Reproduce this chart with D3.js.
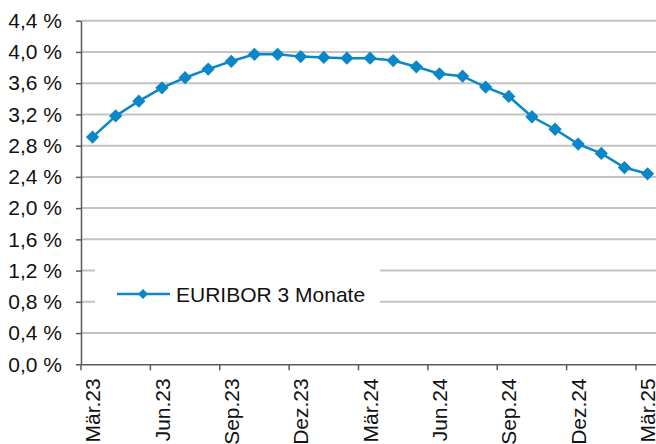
<!DOCTYPE html>
<html>
<head>
<meta charset="utf-8">
<script src="https://cdn.jsdelivr.net/npm/d3@7"></script>
<style>
  html, body { margin: 0; padding: 0; background: #fff; overflow: hidden; }
  svg { display: block; font-family: "Liberation Sans", Arial, sans-serif; }
</style>
</head>
<body>
<div id="chart"></div>
<script>
// Monthly 3-month EURIBOR, Mar 2023 - Mar 2025
const months = ["Mär.23", "Apr.23", "Mai.23", "Jun.23", "Jul.23", "Aug.23", "Sep.23", "Okt.23", "Nov.23",
    "Dez.23", "Jan.24", "Feb.24", "Mär.24", "Apr.24", "Mai.24", "Jun.24", "Jul.24", "Aug.24", "Sep.24",
    "Okt.24", "Nov.24", "Dez.24", "Jan.25", "Feb.25", "Mär.25"];
const euribor = [2.91, 3.18, 3.37, 3.54, 3.67, 3.78, 3.88, 3.97, 3.97, 3.94, 3.93, 3.92, 3.92,
    3.89, 3.81, 3.72, 3.69, 3.55, 3.43, 3.17, 3.01, 2.82, 2.70, 2.52, 2.44];
const yTicks = [0, 0.4, 0.8, 1.2, 1.6, 2.0, 2.4, 2.8, 3.2, 3.6, 4.0, 4.4];
const seriesName = "EURIBOR 3 Monate";

const width = 656;
const height = 444;
const marginLeft = 81;
const bandW = 23.125;
const plotRight = marginLeft + bandW * months.length;
const plotTop = 20.7;
const plotBottom = 364.3;
const blue = "#0b87c8";
const fontSize = 21;

const svg = d3.select("#chart").append("svg")
    .attr("width", width)
    .attr("height", height);

const x = d3.scaleBand()
    .domain(months)
    .range([marginLeft, plotRight])
    .padding(0);

const y = d3.scaleLinear()
    .domain([0, 4.4])
    .range([plotBottom, plotTop]);

const fmt = d => d.toFixed(1).replace(".", ",") + " %";

// gridlines
svg.append("g")
    .selectAll("line")
    .data(yTicks.filter(d => d > 0))
    .join("line")
    .attr("x1", marginLeft)
    .attr("x2", width)
    .attr("y1", d => y(d))
    .attr("y2", d => y(d))
    .attr("stroke", "#c3c3c3")
    .attr("stroke-width", 2);

// legend box covers the grid
svg.append("rect")
    .attr("x", 95).attr("y", 250)
    .attr("width", 285).attr("height", 70)
    .attr("fill", "#fff");

// y axis
svg.append("g")
    .attr("transform", `translate(${marginLeft},0)`)
    .call(d3.axisLeft(y).tickValues(yTicks).tickFormat(fmt).tickSize(5).tickSizeOuter(0))
    .call(g => g.select(".domain").attr("stroke", "#5a5a5a").attr("stroke-width", 1.5))
    .call(g => g.selectAll(".tick line").attr("stroke", "#5a5a5a").attr("stroke-width", 1.5))
    .call(g => g.selectAll(".tick text")
        .attr("x", -19)
        .attr("fill", "#111")
        .attr("font-size", fontSize)
        .attr("font-family", "Liberation Sans, Arial, sans-serif"));

// x axis: labels at band centres, ticks on band boundaries
const labelMonths = months.filter((d, i) => i % 3 === 0);
svg.append("g")
    .attr("transform", `translate(0,${plotBottom})`)
    .call(d3.axisBottom(x).tickValues(labelMonths).tickSize(6).tickSizeOuter(0))
    .call(g => g.select(".domain").attr("stroke", "#5a5a5a").attr("stroke-width", 1.5))
    .call(g => g.selectAll(".tick line")
        .attr("x1", -x.bandwidth() / 2)
        .attr("x2", -x.bandwidth() / 2)
        .attr("stroke", "#5a5a5a").attr("stroke-width", 1.5))
    .call(g => g.selectAll(".tick text")
        .attr("transform", "rotate(-90)")
        .attr("text-anchor", "end")
        .attr("x", -14)
        .attr("y", 0)
        .attr("dy", "0.36em")
        .attr("fill", "#111")
        .attr("font-size", fontSize)
        .attr("font-family", "Liberation Sans, Arial, sans-serif"));

// line
const line = d3.line()
    .x((d, i) => x(months[i]) + x.bandwidth() / 2)
    .y(d => y(d));

svg.append("path")
    .datum(euribor)
    .attr("fill", "none")
    .attr("stroke", blue)
    .attr("stroke-width", 2.5)
    .attr("d", line);

const diamond = d3.symbol(d3.symbolSquare, 88);
svg.append("g")
    .selectAll("path")
    .data(euribor)
    .join("path")
    .attr("d", diamond)
    .attr("transform", (d, i) => `translate(${x(months[i]) + x.bandwidth() / 2},${y(d)}) rotate(45)`)
    .attr("fill", blue);

// legend
const legend = svg.append("g").attr("transform", "translate(117,294)");
legend.append("line")
    .attr("x1", 0).attr("x2", 53)
    .attr("stroke", blue).attr("stroke-width", 2.5);
legend.append("path")
    .attr("d", d3.symbol(d3.symbolSquare, 50))
    .attr("transform", "translate(26,0) rotate(45)")
    .attr("fill", blue);
legend.append("text")
    .attr("x", 59)
    .attr("dy", "0.36em")
    .attr("font-size", fontSize)
    .attr("fill", "#111")
    .text(seriesName);
</script>
</body>
</html>
